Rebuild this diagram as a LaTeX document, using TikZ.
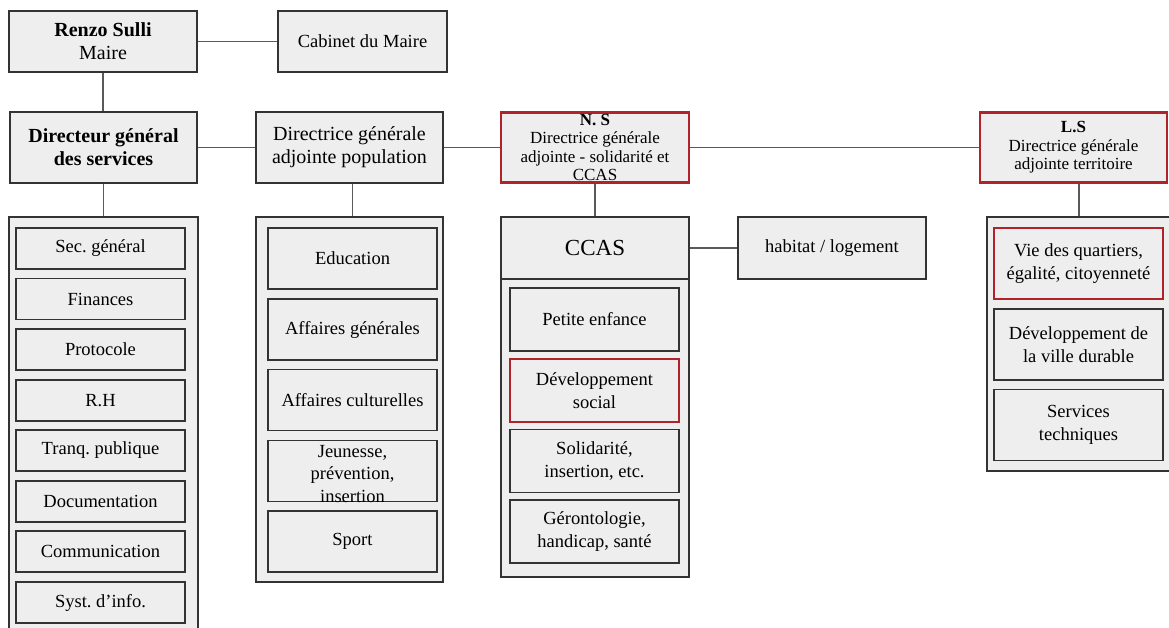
\documentclass[tikz,border=0pt]{standalone}
\usepackage{fontspec}
\setmainfont{Liberation Serif}
\usepackage{xcolor}
\usetikzlibrary{positioning}
\frenchspacing

\definecolor{boxfill}{HTML}{EEEEEE}
\definecolor{boxline}{HTML}{333333}
\definecolor{linkgray}{HTML}{5A5A5A}
\definecolor{mark}{RGB}{178,34,42}

\begin{document}
\begin{tikzpicture}[x=1pt, y=-1pt,
		box/.style={draw=boxline, fill=boxfill, line width=1.3pt, inner sep=0pt, align=center},
		redbox/.style={box, draw=mark, line width=2.2pt},
		head/.style={font=\fontsize{20}{23}\selectfont},
		sub/.style={font=\fontsize{18.5}{22.5}\selectfont},
		small/.style={font=\fontsize{17}{18.5}\selectfont, align=center},
		link/.style={draw=linkgray, line width=1.2pt}]
			\useasboundingbox (0,0) rectangle (1169,627);
			\clip (0,0) rectangle (1169,627);
			% top row
			\node [box, head, minimum width=188, minimum height=61] (maire) at (103,41.5) {\textbf{Renzo Sulli}\\Maire};
			\node [box, sub, minimum width=169, minimum height=61] (cabinet) at (362.5,41.5) {Cabinet du Maire};
			% directions
			\node [box, head, minimum width=187, minimum height=71] (dgs) at (103.5,147.5) {\textbf{Directeur général}\\\textbf{des services}};
			\node [box, head, minimum width=187, minimum height=71] (pop) at (349.5,147.5) {Directrice générale\\adjointe population};
			\node [redbox, minimum width=188, minimum height=70] (ns) at (595,147.5) {};
			\node [small] (nstext) at (ns.center) {\textbf{N. S}\\Directrice générale\\adjointe - solidarité et\\CCAS};
			\node [redbox, small, minimum width=187, minimum height=70] (ls) at (1073.5,147.5) {\textbf{L.S}\\Directrice générale\\adjointe territoire};
			% containers
			\node [box, minimum width=189, minimum height=423] (dgscont) at (103.5,428.5) {};
			\node [box, minimum width=187, minimum height=365] (popcont) at (349.5,399.5) {};
			\node [box, minimum width=188, minimum height=360] (ccascont) at (595,397) {};
			\node [box, font=\fontsize{23}{26}\selectfont, minimum width=188, minimum height=62] (ccas) at (595,248) {CCAS};
			\node [box, sub, minimum width=188, minimum height=62] (habitat) at (832,248) {habitat / logement};
			\node [box, minimum width=184, minimum height=254] (lscont) at (1079,344) {};
			% services generaux
			\node [box, sub, minimum width=169, minimum height=41] (sec) at (100.5,248.5) {Sec. général};
			\node [box, sub, minimum width=169, minimum height=41] (fin) at (100.5,299) {Finances};
			\node [box, sub, minimum width=169, minimum height=41] (proto) at (100.5,349.5) {Protocole};
			\node [box, sub, minimum width=169, minimum height=41] (rh) at (100.5,400.5) {R.H};
			\node [box, sub, minimum width=169, minimum height=41] (tranq) at (100.5,450.5) {Tranq. publique};
			\node [box, sub, minimum width=169, minimum height=41] (doc) at (100.5,501.5) {Documentation};
			\node [box, sub, minimum width=169, minimum height=41] (com) at (100.5,551.5) {Communication};
			\node [box, sub, minimum width=169, minimum height=41] (si) at (100.5,602.5) {Syst. d’info.};
			% population
			\node [box, sub, minimum width=169, minimum height=61] (educ) at (352.5,258.5) {Education};
			\node [box, sub, minimum width=169, minimum height=61] (affgen) at (352.5,329.5) {Affaires générales};
			\node [box, sub, minimum width=169, minimum height=61] (affcult) at (352.5,400) {Affaires culturelles};
			\node [box, minimum width=169, minimum height=61] (jeun) at (352.5,471) {};
			\node [sub, align=center] (jeuntext) at ([yshift=-3]jeun.center) {Jeunesse,\\prévention,\\insertion};
			\node [box, sub, minimum width=169, minimum height=61] (sport) at (352.5,541.5) {Sport};
			% solidarite
			\node [box, sub, minimum width=169, minimum height=63] (petite) at (594.5,319.5) {Petite enfance};
			\node [redbox, sub, minimum width=169, minimum height=63] (devsoc) at (594.5,390.5) {Développement\\social};
			\node [box, sub, minimum width=169, minimum height=63] (solid) at (594.5,461) {Solidarité,\\insertion, etc.};
			\node [box, sub, minimum width=169, minimum height=63] (geron) at (594.5,531.5) {Gérontologie,\\handicap, santé};
			% territoire
			\node [redbox, sub, minimum width=169, minimum height=71] (quart) at (1078.5,263.5) {Vie des quartiers,\\égalité, citoyenneté};
			\node [box, sub, minimum width=169, minimum height=71] (durable) at (1078.5,344.5) {Développement de\\la ville durable};
			\node [box, sub, minimum width=169, minimum height=71] (tech) at (1078.5,425) {Services\\techniques};
			% liens
			\draw [link] (maire.east) -- (cabinet.west);
			\draw [link] (maire.south) -- (maire.south |- dgs.north);
			\draw [link] (dgs.east) -- (pop.west);
			\draw [link] (pop.east) -- (ns.west);
			\draw [link] (ns.east) -- (ls.west);
			\draw [link] (dgs.south) -- (dgs.south |- dgscont.north);
			\draw [link] ([xshift=3]pop.south) -- ([xshift=3]pop.south |- popcont.north);
			\draw [link] (ns.south) -- (ccas.north);
			\draw [link] (ccas.east) -- (habitat.west);
			\draw [link] (lscont.north |- ls.south) -- (lscont.north);
		\end{tikzpicture}
\end{document}
